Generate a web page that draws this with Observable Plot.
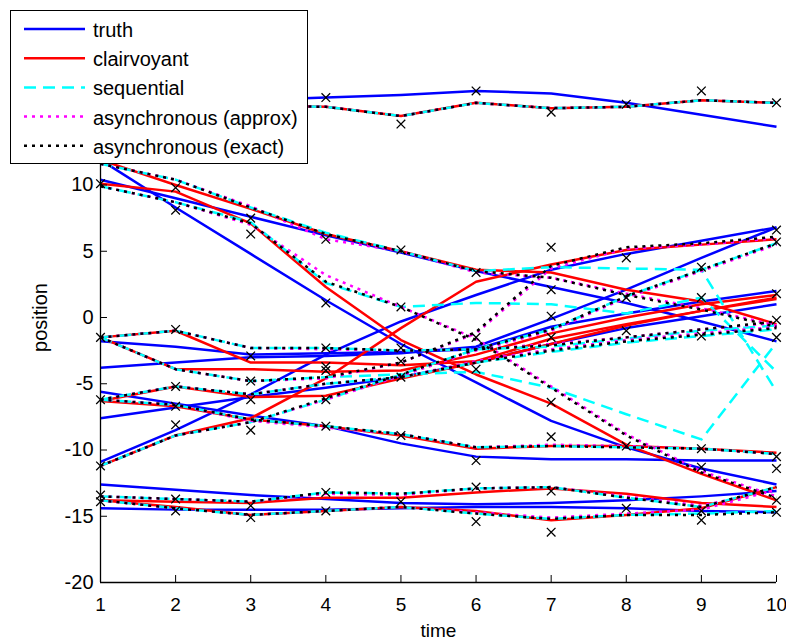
<!DOCTYPE html>
<html><head><meta charset="utf-8">
<script src="https://cdn.jsdelivr.net/npm/d3@7"></script>
<script src="https://cdn.jsdelivr.net/npm/@observablehq/plot@0.6"></script>
<style>
body{margin:0;background:#fff;}
#wrap{position:relative;width:786px;height:639px;font-family:"Liberation Sans",Arial,Helvetica,sans-serif;}
#wrap svg{overflow:visible;}
#legend{position:absolute;left:10px;top:10px;width:296px;height:152px;background:#fff;border:1px solid #000;}
</style></head><body><div id="wrap"></div>
<script>
const times = [1,2,3,4,5,6,7,8,9,10];
const xTicks = [1,2,3,4,5,6,7,8,9,10];
const yTicks = [-20,-15,-10,-5,0,5,10,15,20];
const legendLabels = ["truth","clairvoyant","sequential","asynchronous (approx)","asynchronous (exact)"];

const truth = [
  [15.8,16.1,16.4,16.6,16.8,17.1,16.9,16.2,15.3,14.4],
  [11.9,8.3,4.8,1.3,-2.0,-4.9,-7.8,-9.8,-11.4,-12.6],
  [10.4,9.0,7.6,6.2,4.9,3.5,2.3,1.1,-0.3,-1.8],
  [-1.8,-2.2,-2.8,-2.7,-2.6,-2.4,-0.7,0.3,1.2,2.0],
  [-3.8,-3.4,-3.0,-2.9,-2.7,-2.2,-0.1,2.1,4.5,6.8],
  [-5.6,-6.5,-7.4,-8.2,-9.5,-10.5,-10.7,-10.7,-10.8,-10.8],
  [-7.6,-6.8,-6.0,-5.3,-4.5,-3.4,-2.0,-0.8,0.1,1.0],
  [-10.9,-8.5,-5.8,-2.8,-0.3,1.7,3.6,4.8,5.8,6.8],
  [-12.6,-13.0,-13.4,-13.7,-14.0,-14.1,-14.0,-13.8,-13.5,-13.1],
  [-14.4,-14.5,-14.5,-14.5,-14.4,-14.3,-14.3,-14.4,-14.6,-14.7]
];
const clairvoyant = [
  [15.6,15.8,16.0,15.9,15.2,16.2,15.8,15.9,16.4,16.2],
  [10.1,9.5,7.1,2.3,-1.7,-4.3,-6.5,-9.6,-11.8,-13.8],
  [11.9,10.0,8.2,6.3,5.0,3.6,3.4,2.1,1.2,-0.5],
  [-1.5,-1.0,-3.4,-3.4,-3.6,-3.3,-1.6,-0.5,0.5,1.4],
  [-1.5,-3.9,-3.9,-4.1,-4.0,-2.8,-1.2,0.0,1.0,1.7],
  [-6.3,-6.7,-7.7,-8.2,-8.9,-9.9,-9.7,-9.7,-9.9,-10.2],
  [-6.3,-5.2,-6.0,-5.9,-4.6,-3.4,-2.0,-0.6,0.5,1.5],
  [-11.2,-8.9,-7.6,-4.6,-0.8,2.7,4.0,5.1,5.5,5.9],
  [-13.8,-13.9,-14.0,-13.6,-13.6,-13.2,-12.9,-13.3,-14.0,-14.3],
  [-13.8,-14.3,-14.9,-14.6,-14.3,-14.6,-15.3,-14.9,-14.4,-12.8]
];
const sequential = [
  [15.6,15.8,16.0,15.9,15.2,16.2,15.8,15.9,16.4,16.2],
  [9.9,8.7,7.2,2.6,0.8,1.1,1.0,0.3,1.5,-4.1],
  [11.6,10.4,8.3,6.4,5.0,3.5,3.8,3.7,3.6,-5.6],
  [-1.5,-1.0,-2.3,-2.3,-2.5,-2.4,-2.2,-1.6,-1.0,-0.6],
  [-1.5,-3.9,-4.8,-4.5,-4.3,-4.1,-5.3,-7.3,-9.2,-1.9],
  [-6.2,-6.6,-7.7,-8.2,-8.8,-9.8,-9.7,-9.8,-9.9,-10.3],
  [-6.2,-5.2,-5.8,-5.0,-4.5,-3.4,-2.6,-1.9,-1.4,-0.9],
  [-11.2,-8.9,-7.9,-6.2,-4.3,-2.4,-0.9,1.6,3.6,5.6],
  [-13.5,-13.7,-13.9,-13.2,-13.3,-12.9,-12.8,-13.6,-14.3,-12.8],
  [-13.8,-14.4,-14.9,-14.6,-14.3,-14.8,-15.2,-14.9,-14.8,-14.6]
];
const asyncApprox = [
  [15.6,15.8,16.0,15.9,15.2,16.2,15.8,15.9,16.4,16.2],
  [9.9,8.7,7.0,3.2,0.8,-1.6,-5.2,-8.8,-11.6,-13.5],
  [11.6,10.4,8.4,5.9,5.0,3.4,3.0,1.8,0.7,-0.6],
  [-1.5,-1.0,-2.3,-2.4,-2.5,-2.4,-2.0,-1.5,-0.9,-0.4],
  [-1.5,-3.9,-4.8,-4.6,-3.4,-1.2,3.7,5.2,5.5,6.0],
  [-6.2,-6.6,-7.8,-8.3,-8.8,-9.8,-9.6,-9.7,-9.9,-10.3],
  [-6.2,-5.2,-5.8,-5.0,-4.5,-3.3,-2.4,-1.7,-1.2,-0.7],
  [-11.2,-8.9,-7.9,-6.2,-4.4,-2.5,-1.0,1.5,3.5,5.5],
  [-13.5,-13.7,-13.9,-13.3,-13.4,-12.9,-12.8,-13.5,-14.2,-13.0],
  [-13.8,-14.4,-14.9,-14.6,-14.3,-14.7,-15.1,-14.8,-14.5,-13.0]
];
const asyncExact = [
  [15.6,15.8,16.0,15.9,15.2,16.2,15.8,15.9,16.4,16.2],
  [9.9,8.7,7.1,2.7,0.8,-1.7,-5.3,-8.9,-11.7,-13.6],
  [11.6,10.4,8.3,6.3,5.0,3.5,3.0,1.7,0.6,-0.7],
  [-1.5,-1.0,-2.3,-2.3,-2.5,-2.4,-2.1,-1.5,-0.9,-0.3],
  [-1.5,-3.9,-4.8,-4.5,-3.4,-1.1,3.9,5.3,5.6,6.1],
  [-6.2,-6.6,-7.7,-8.2,-8.8,-9.8,-9.7,-9.8,-9.9,-10.3],
  [-6.2,-5.2,-5.8,-5.0,-4.5,-3.4,-2.5,-1.8,-1.3,-0.8],
  [-11.2,-8.9,-7.9,-6.1,-4.3,-2.4,-0.9,1.6,3.6,5.6],
  [-13.5,-13.7,-13.9,-13.2,-13.3,-12.9,-12.8,-13.6,-14.3,-12.8],
  [-13.8,-14.4,-14.9,-14.6,-14.3,-14.8,-15.2,-14.9,-14.9,-14.7]
];
const measurements = [
  [15.4,10.1,-1.5,-6.2,-11.2,-13.4,-13.9],
  [16.3,9.8,8.1,-0.9,-5.2,-6.7,-8.1,-13.7,-14.6],
  [16.0,7.5,6.3,-2.9,-4.8,-6.2,-8.5,-14.2,-15.1],
  [16.6,5.9,1.1,-2.3,-3.7,-4.0,-6.2,-8.2,-13.2,-14.6],
  [14.6,5.1,0.8,-2.3,-3.3,-4.5,-8.9,-13.9],
  [17.1,3.4,-1.5,-3.9,-10.8,-12.8,-15.4],
  [15.5,5.3,2.1,0.1,-1.5,-6.4,-9.0,-13.1,-16.2],
  [16.1,4.5,1.5,-1.0,-9.7,-14.4],
  [17.1,3.8,1.5,-1.4,-9.9,-11.3,-14.6,-15.3],
  [16.2,6.6,5.7,1.8,-0.2,-1.5,-10.5,-11.4,-13.8,-14.7]
];

const styles = [
  {stroke:"#0000ff", dash:null},
  {stroke:"#ff0000", dash:null},
  {stroke:"#00ffff", dash:"12,7"},
  {stroke:"#ff00ff", dash:"3,5"},
  {stroke:"#000000", dash:"3,5"}
];
const seriesList = [truth, clairvoyant, sequential, asyncApprox, asyncExact];

function toRows(tracks, name){
  const out = [];
  tracks.forEach((tr,k)=>tr.forEach((v,i)=>out.push({track:name+"-"+k, t:times[i], v})));
  return out;
}
const measRows = [];
measurements.forEach((vals,i)=>vals.forEach(v=>measRows.push({t:times[i], v})));

const lineMarks = seriesList.map((tracks,si)=>Plot.line(toRows(tracks, legendLabels[si]), {
  x:"t", y:"v", z:"track", stroke:styles[si].stroke, strokeWidth:2.5,
  strokeDasharray: styles[si].dash || undefined, strokeLinecap:"butt", strokeLinejoin:"round"
}));

const fmt = d => String(d);

const chart = Plot.plot({
  width:786, height:639,
  marginLeft:100, marginRight:10, marginTop:52, marginBottom:57,
  style:{fontFamily:'"Liberation Sans", Arial, Helvetica, sans-serif', fontSize:"20px", color:"#000", background:"#fff", overflow:"visible"},
  x:{domain:[1,10]},
  y:{domain:[-20,20]},
  marks:[
    ...lineMarks,
    Plot.dot(measRows, {x:"t", y:"v", symbol:"times", r:4, stroke:"#000", strokeWidth:1.3}),
    Plot.ruleY([yTicks[0]], {stroke:"#000", strokeWidth:1.3}),
    Plot.ruleX([xTicks[0]], {stroke:"#000", strokeWidth:1.3}),
    Plot.axisX(xTicks, {tickSize:-7, tickFormat:()=>"", label:null}),
    Plot.axisY(yTicks, {tickSize:-7, tickFormat:()=>"", label:null}),
    Plot.axisX(xTicks, {tickSize:0, tickPadding:15, tickFormat:fmt, fontSize:19, label:"time", labelAnchor:"center", labelArrow:"none", labelOffset:54}),
    Plot.axisY(yTicks, {tickSize:0, tickPadding:7, tickFormat:fmt, label:"position", labelAnchor:"center", labelArrow:"none", labelOffset:68})
  ]
});
const wrap = document.getElementById("wrap");
wrap.appendChild(chart);

// legend overlay
const leg = document.createElement("div");
leg.id = "legend";
const ns = "http://www.w3.org/2000/svg";
const lsvg = document.createElementNS(ns, "svg");
lsvg.setAttribute("width", 296); lsvg.setAttribute("height", 152);
legendLabels.forEach((lab,i)=>{
  const yLine = 18 + i*29.2;
  const ln = document.createElementNS(ns, "line");
  ln.setAttribute("x1", 13); ln.setAttribute("x2", 74);
  ln.setAttribute("y1", yLine); ln.setAttribute("y2", yLine);
  ln.setAttribute("stroke", styles[i].stroke); ln.setAttribute("stroke-width", 2.5);
  if (styles[i].dash) ln.setAttribute("stroke-dasharray", styles[i].dash);
  lsvg.appendChild(ln);
  const tx = document.createElementNS(ns, "text");
  tx.setAttribute("x", 82); tx.setAttribute("y", yLine + 8);
  tx.setAttribute("font-size", 20);
  tx.setAttribute("font-family", '"Liberation Sans", Arial, Helvetica, sans-serif');
  tx.textContent = lab;
  lsvg.appendChild(tx);
});
leg.appendChild(lsvg);
wrap.appendChild(leg);
</script>
</body></html>
